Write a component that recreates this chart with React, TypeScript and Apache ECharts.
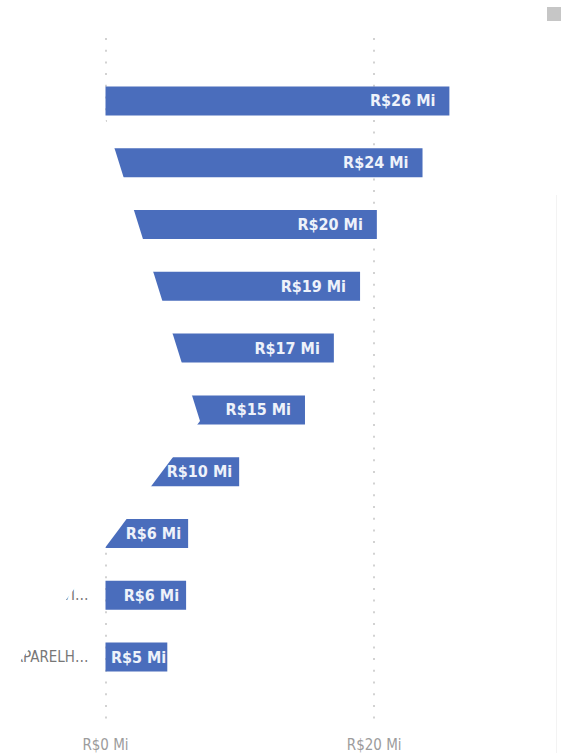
import React, { useEffect, useRef } from "react";
import * as echarts from "echarts";

const categories = [
  "SMARTPHONES",
  "INFORMÁTICA",
  "ELETRODOMÉSTICOS",
  "TELEVISORES",
  "MÓVEIS",
  "ELETROPORTÁTEIS",
  "GAMES",
  "ACESSÓRIOS",
  "TVS E VIDEOGAMES",
  "APARELHOS DE SOM",
];
const salesMi = [25.6, 23.6, 20.2, 18.95, 17.0, 14.85, 9.95, 6.15, 6.0, 4.6];
const tickValues = [0, 20];

const FONT = "'DejaVu Sans Condensed', 'Liberation Sans Narrow', 'Roboto', sans-serif";

export default function App() {
  const ref = useRef<HTMLDivElement>(null);
  useEffect(() => {
    if (!ref.current) return;
    const chart = echarts.init(ref.current, undefined, { renderer: "svg" });
    const fmt = (v: number) => `R$${Math.round(v)} Mi`;
    chart.setOption({
      animation: false,
      backgroundColor: "#ffffff",
      grid: [
        { left: 105.5, width: 403, top: 70, height: 618, containLabel: false },
        { left: 105.5, width: 403, top: 38, height: 685, containLabel: false },
      ],
      xAxis: [
        { type: "value", gridIndex: 0, min: 0, max: 30, show: false },
        {
          type: "value",
          gridIndex: 1,
          min: 0,
          max: 30,
          interval: 20,
          axisLine: { show: false },
          axisTick: { show: false },
          splitLine: {
            show: true,
            showMaxLine: false,
            lineStyle: { color: "#c4c4c4", width: 1.5, type: [2, 9.7] },
          },
          axisLabel: {
            color: "#9c9c9c",
            fontSize: 15,
            fontFamily: FONT,
            margin: 14,
            showMaxLabel: false,
            formatter: (v: number) => (tickValues.includes(v) ? `R$${v} Mi` : ""),
          },
        },
      ],
      yAxis: [
        {
          type: "category",
          gridIndex: 0,
          inverse: true,
          data: categories,
          axisLine: { show: false },
          axisTick: { show: false },
          splitLine: { show: false },
          axisLabel: {
            color: "#777777",
            fontSize: 15,
            fontFamily: FONT,
            margin: 17,
            width: 82,
            overflow: "truncate",
            ellipsis: "…",
          },
        },
        { type: "value", gridIndex: 1, show: false, min: 0, max: 1 },
      ],
      series: [
        {
          type: "bar",
          xAxisIndex: 0,
          yAxisIndex: 0,
          barWidth: 29,
          itemStyle: { color: "#4A6DBC" },
          data: salesMi.map((v) => ({
            value: v,
            label: { distance: v < 5 ? 1 : v < 11 ? 7 : 14 },
          })),
          label: {
            show: true,
            position: "insideRight",
            color: "#EEF2FA",
            fontSize: 16,
            fontWeight: "bold",
            fontFamily: FONT,
            formatter: (p: any) => fmt(p.value),
          },
        },
        { type: "line", xAxisIndex: 1, yAxisIndex: 1, data: [] },
      ],
      graphic: [
        {
          type: "polygon",
          z: 100,
          shape: {
            points: [
              [0, 0],
              [68, 0],
              [200, 421],
              [0, 688],
            ],
          },
          style: { fill: "#ffffff" },
        },
        {
          type: "rect",
          z: 100,
          shape: { x: 547, y: 7, width: 14, height: 14 },
          style: { fill: "#c6c6c6" },
        },
        {
          type: "line",
          z: 100,
          shape: { x1: 556.5, y1: 195, x2: 556.5, y2: 753 },
          style: { stroke: "#f3f3f3", lineWidth: 1 },
        },
      ],
    });
    return () => chart.dispose();
  }, []);
  return (
    <div
      ref={ref}
      style={{ position: "absolute", left: 0, top: 0, width: 563, height: 753 }}
    />
  );
}
